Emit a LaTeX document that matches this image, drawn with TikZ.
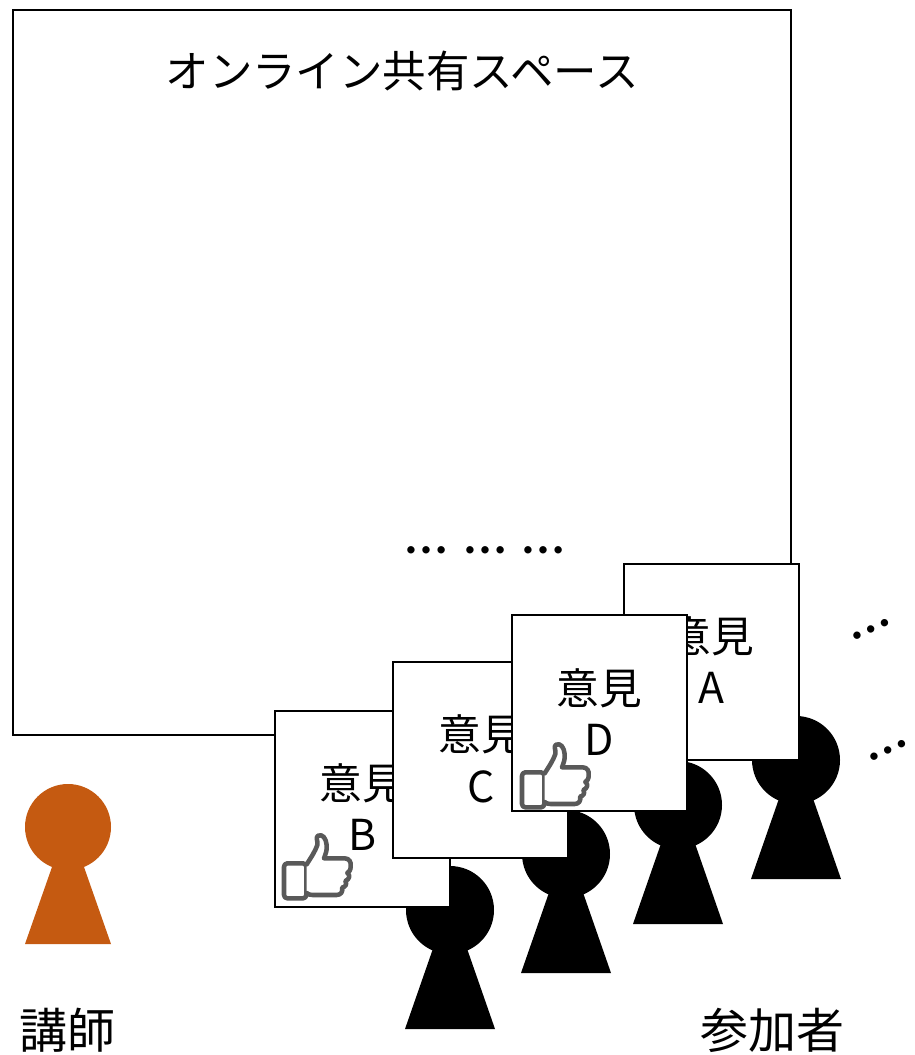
\documentclass[tikz,border=0pt]{standalone}
\usepackage{fontspec}
\setmainfont{Noto Sans CJK JP}
\newfontfamily\dotsfont{Lato}
\usetikzlibrary{calc}
\definecolor{lecturer}{HTML}{C55A11}
\definecolor{iconcol}{HTML}{595959}
\tikzset{
  x=0.75pt,y=-0.75pt,
  frame/.style={draw=black,line width=2pt,fill=white,outer sep=0pt},
  cardbox/.style={frame,rectangle,minimum width=131.25pt,minimum height=147pt,inner sep=0pt,anchor=north west},
  cardtxt/.style={font=\fontsize{32}{32}\selectfont,inner sep=0pt},
  bigtxt/.style={font=\fontsize{36}{36}\selectfont,inner sep=0pt},
  dotstxt/.style={font=\dotsfont\fontsize{44}{44}\selectfont,inner sep=0pt},
  thumbline/.style={draw=iconcol,line width=3.4pt,line join=round,line cap=round,fill=white},
  person/.pic={
    \fill[pic actions] (-17.5,40) -- (17.5,40) -- (45,119) -- (-45,119) -- cycle;
    \fill[pic actions] (0,0) circle (44);
  },
  lectperson/.pic={
    \fill[pic actions] (-16,40) -- (16,40) -- (43,117) -- (-43,117) -- cycle;
    \fill[pic actions] (0,0) circle (43);
  },
  thumbicon/.pic={
    \begin{scope}[x=0.25pt,y=-0.25pt]
      \draw[thumbline,rounded corners=2.5pt] (36,127) rectangle (103,232);
      \draw[thumbline] (104,130)
        .. controls (118,108) and (130,90) .. (136,72)
        .. controls (138,58) and (130,50) .. (138,44)
        .. controls (152,38) and (162,52) .. (164,72)
        .. controls (166,88) and (160,100) .. (156,112)
        -- (218,112)
        .. controls (232,112) and (238,124) .. (236,136)
        .. controls (236,148) and (232,152) .. (226,156)
        .. controls (236,162) and (232,176) .. (220,180)
        .. controls (226,190) and (220,198) .. (210,200)
        .. controls (214,212) and (206,222) .. (194,222)
        -- (122,222)
        .. controls (114,222) and (108,220) .. (104,216);
    \end{scope}
  }
}
\begin{document}
\begin{tikzpicture}
\useasboundingbox (0,0) rectangle (914,1055);

% shared space
\node[frame,rectangle,minimum width=583.5pt,minimum height=543.75pt,inner sep=0pt,anchor=north west] (space) at (13,10) {};
\node[bigtxt,font=\fontsize{32.6}{32.6}\selectfont] (title) at (402,71) {オンライン共有スペース};

\node[dotstxt] (dotsa) at (426,550.5) {…};
\node[dotstxt] (dotsb) at (485,550.5) {…};
\node[dotstxt] (dotsc) at (543,550.5) {…};
\node[dotstxt,rotate=24.5] (dotsd) at (871.5,629) {…};
\node[dotstxt,rotate=24.5] (dotse) at (888,750) {…};

% lecturer
\pic[fill=lecturer] (lect) at (68,827) {lectperson};
\node[bigtxt] (lectl) at (67,1030) {講師};

% participants
\pic[fill=black] (pa) at (796,760) {person};
\pic[fill=black] (pd) at (678,805) {person};
\pic[fill=black] (pc) at (566,854) {person};
\pic[fill=black] (pb) at (450,910) {person};
\node[bigtxt] (partl) at (772.5,1030) {参加者};

% cards, back to front
\node[cardbox] (carda) at (624,564) {};
\node[cardtxt] (cardat) at (711,636) {意見};
\node[cardtxt] (cardal) at (711,688) {A};

\node[cardbox] (cardb) at (275,711) {};
\node[cardtxt] (cardbt) at (362.5,783) {意見};
\node[cardtxt] (cardbl) at (363,835) {B};
\pic at (272,821) {thumbicon};

\node[cardbox] (cardc) at (393,662) {};
\node[cardtxt] (cardct) at (481,734) {意見};
\node[cardtxt] (cardcl) at (481,787) {C};

\node[cardbox] (cardd) at (512,615) {};
\node[cardtxt] (carddt) at (599,688) {意見};
\node[cardtxt] (carddl) at (599,740) {D};
\pic at (510,730) {thumbicon};
\end{tikzpicture}
\end{document}
